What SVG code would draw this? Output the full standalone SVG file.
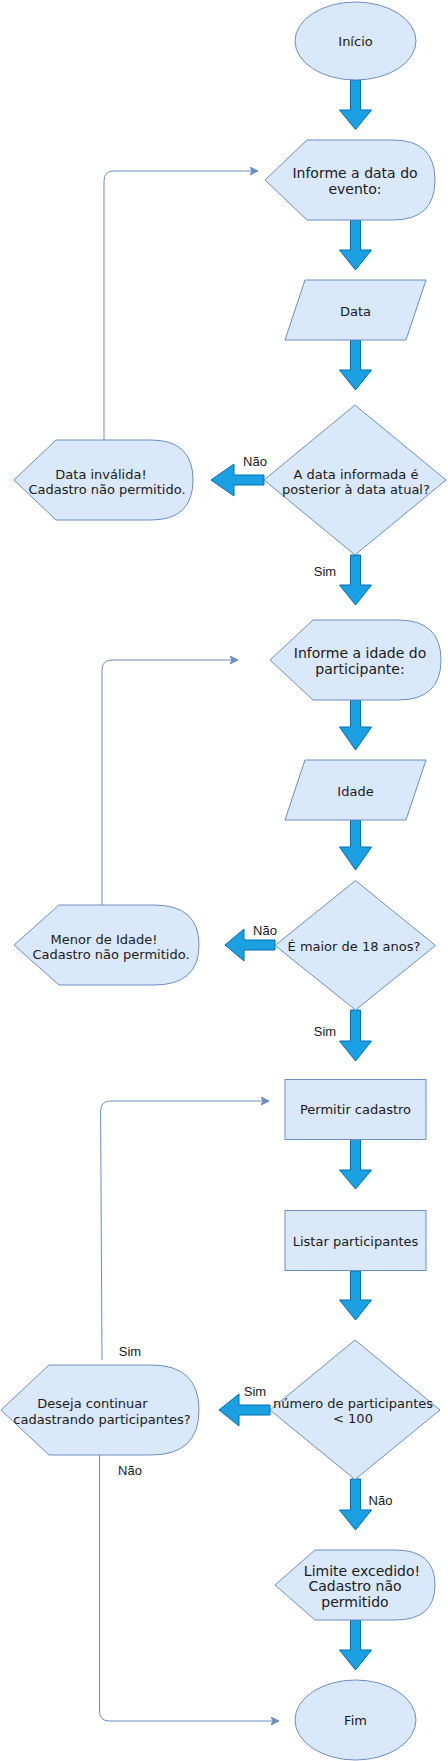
<svg xmlns="http://www.w3.org/2000/svg" width="448" height="1761" viewBox="0 0 448 1761">
<style>
.n{fill:#dae8fc;stroke:#6c8ebf;stroke-width:1}
.ba{fill:#1ba1e2;stroke:#006eaf;stroke-width:1}
.c{fill:none;stroke:#6c8ebf;stroke-width:1}
.t{font-family:"DejaVu Sans",Verdana,sans-serif;font-size:13px;fill:#1a1a1a;text-anchor:middle}
.t14{font-size:14px}
.l{font-family:"Liberation Sans",Arial,sans-serif;font-size:13px;fill:#1a1a1a;text-anchor:middle}
</style>
<defs>
<marker id="ah" markerWidth="10" markerHeight="10" refX="8" refY="4" orient="auto" markerUnits="userSpaceOnUse">
<path d="M0,0 L8,4 L0,8 L2,4 Z" fill="#6c8ebf" stroke="#6c8ebf" stroke-width="1"/>
</marker>
</defs>
<rect width="448" height="1761" fill="#ffffff"/>

<g id="connectors">
<path class="c" d="M104,440 V181 Q104,171 114,171 H258" marker-end="url(#ah)"/>
<path class="c" d="M102,905 V670 Q102,660 112,660 H238" marker-end="url(#ah)"/>
<path class="c" d="M102,1360 L100.6,1111 Q100.6,1101 110.6,1101 H269" marker-end="url(#ah)"/>
<path class="c" d="M99.5,1455 V1711 Q99.5,1721 109.5,1721 H279" marker-end="url(#ah)"/>
<path class="ba" d="M350.5,80 H360.5 V110 H371.5 L355.5,129.5 L339.5,110 H350.5 Z"/>
<path class="ba" d="M350.5,220 H360.5 V250 H371.5 L355.5,270 L339.5,250 H350.5 Z"/>
<path class="ba" d="M350.5,340 H360.5 V370 H371.5 L355.5,390 L339.5,370 H350.5 Z"/>
<path class="ba" d="M350.5,555 H360.5 V585 H371.5 L355.5,605 L339.5,585 H350.5 Z"/>
<path class="ba" d="M350.5,700 H360.5 V727 H371.5 L355.5,750 L339.5,727 H350.5 Z"/>
<path class="ba" d="M350.5,820 H360.5 V847 H371.5 L355.5,870 L339.5,847 H350.5 Z"/>
<path class="ba" d="M350.5,1010 H360.5 V1041 H371.5 L355.5,1061 L339.5,1041 H350.5 Z"/>
<path class="ba" d="M350.5,1139 H360.5 V1170 H371.5 L355.5,1189 L339.5,1170 H350.5 Z"/>
<path class="ba" d="M350.5,1271 H360.5 V1300 H371.5 L355.5,1320 L339.5,1300 H350.5 Z"/>
<path class="ba" d="M350.5,1479 H360.5 V1510 H371.5 L355.5,1530 L339.5,1510 H350.5 Z"/>
<path class="ba" d="M350.5,1620 H360.5 V1650 H371.5 L355.5,1670 L339.5,1650 H350.5 Z"/>
<path class="ba" d="M264,475 H234 V464 L211,480 L234,496 V485 H264 Z"/>
<path class="ba" d="M275,940 H244 V929 L225,945 L244,961 V950 H275 Z"/>
<path class="ba" d="M270,1405 H239 V1394 L219,1410 L239,1426 V1415 H270 Z"/>
<text class="l" x="255" y="466">Não</text>
<text class="l" x="325" y="576">Sim</text>
<text class="l" x="265" y="935">Não</text>
<text class="l" x="325" y="1036">Sim</text>
<text class="l" x="255" y="1395.5">Sim</text>
<text class="l" x="130" y="1355.5">Sim</text>
<text class="l" x="130" y="1474.5">Não</text>
<text class="l" x="380.5" y="1504.5">Não</text>
</g>

<g id="inicio">
<ellipse class="n" cx="355.5" cy="41" rx="60.5" ry="39"/>
<text class="t" x="355.5" y="46">Início</text>
</g>

<g id="informe-data">
<path class="n" d="M265,180 L307,140 L393,140 Q435,140 435,180 Q435,220 393,220 L307,220 Z"/>
<text class="t t14" x="355" y="178">Informe a data do</text>
<text class="t t14" x="355" y="194">evento:</text>
</g>

<g id="data">
<path class="n" d="M305,280 H426 L406,340 H285 Z"/>
<text class="t" x="355.5" y="316">Data</text>
</g>

<g id="decisao-data">
<path class="n" d="M355,405 L446,480 L355,555 L264,480 Z"/>
<text class="t" x="356" y="479">A data informada é</text>
<text class="t" x="356" y="494">posterior à data atual?</text>
</g>

<g id="data-invalida">
<path class="n" d="M14,480 L56,440 L151,440 Q193,440 193,480 Q193,520 151,520 L56,520 Z"/>
<text class="t" x="101" y="479">Data inválida!</text>
<text class="t" x="107" y="494">Cadastro não permitido.</text>
</g>

<g id="informe-idade">
<path class="n" d="M270,660 L313,620 L398,620 Q441,620 441,660 Q441,700 398,700 L313,700 Z"/>
<text class="t t14" x="360" y="658">Informe a idade do</text>
<text class="t t14" x="360" y="674">participante:</text>
</g>

<g id="idade">
<path class="n" d="M305,760 H426 L406,820 H285 Z"/>
<text class="t" x="355.5" y="796">Idade</text>
</g>

<g id="decisao-idade">
<path class="n" d="M355.5,880.5 L435.5,945.5 L355.5,1010 L275,945.5 Z"/>
<text class="t" x="354" y="950.5">É maior de 18 anos?</text>
</g>

<g id="menor-idade">
<path class="n" d="M14,945 L59,905 L154,905 Q199,905 199,945 Q199,985 154,985 L59,985 Z"/>
<text class="t" x="104" y="944">Menor de Idade!</text>
<text class="t" x="111" y="959">Cadastro não permitido.</text>
</g>

<g id="permitir">
<rect class="n" x="285" y="1079.5" width="141" height="60"/>
<text class="t" x="355.5" y="1114">Permitir cadastro</text>
</g>

<g id="listar">
<rect class="n" x="285" y="1210.5" width="141" height="60"/>
<text class="t" x="355.5" y="1245.5">Listar participantes</text>
</g>

<g id="decisao-limite">
<path class="n" d="M355,1340 L440,1410 L355,1479.5 L270,1410 Z"/>
<text class="t" x="353" y="1408">número de participantes</text>
<text class="t" x="353" y="1423">&lt; 100</text>
</g>

<g id="continuar">
<path class="n" d="M1,1410 L49,1365 L151,1365 Q199,1365 199,1410 Q199,1455 151,1455 L49,1455 Z"/>
<text class="t" x="92.5" y="1408">Deseja continuar</text>
<text class="t" x="102" y="1424">cadastrando participantes?</text>
</g>

<g id="limite">
<path class="n" d="M275,1585 L315,1550 L395,1550 Q435,1550 435,1585 Q435,1620 395,1620 L315,1620 Z"/>
<text class="t t14" x="362" y="1576">Limite excedido!</text>
<text class="t t14" x="355" y="1591">Cadastro não</text>
<text class="t t14" x="355" y="1607">permitido</text>
</g>

<g id="fim">
<ellipse class="n" cx="355.5" cy="1720" rx="60.5" ry="40"/>
<text class="t" x="355.5" y="1724.5">Fim</text>
</g>
</svg>
